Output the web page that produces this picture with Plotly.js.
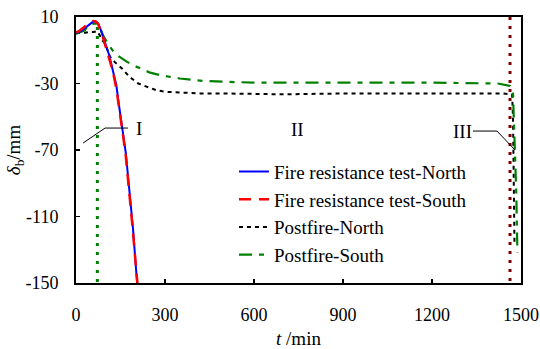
<!DOCTYPE html>
<html>
<head>
<meta charset="utf-8">
<script src="https://cdn.plot.ly/plotly-3.0.1.min.js"></script>
<style>html,body{margin:0;padding:0;background:#fff;}#chart{width:540px;height:349px;}</style>
</head>
<body>
<div id="chart"></div>
<script>
// ---- data ----
const fireNorthT = [0,10,20,30,40,50,60,68,75,82,90,98,105,112,120,128,136,144,152,160,168,176,184,192,200,206];
const fireNorthD = [0.5,1,2,3.5,5,6.5,7.5,7.2,6,3,-1,-5,-9,-13,-19,-25,-31,-42,-51,-62,-72,-86,-100,-117,-136,-150];
const fireSouthT = [0,10,20,30,40,50,58,66,74,82,90,97,104,112,120,128,136,144,152,160,168,176,184,192,200,207];
const fireSouthD = [0.8,1.5,3,4.5,6,7,7.6,7.3,6,2.5,-1.5,-6,-10,-14,-20,-26,-33,-43,-52,-63,-74,-88,-103,-119,-136,-150];
const postNorthT = [0,15,30,45,60,71,80,88,98,115,130,155,180,210,240,270,300,350,420,500,700,900,1100,1300,1439,1470,1473,1476,1478];
const postNorthD = [0,0.5,0.5,1,1,1.5,-1,-4,-6,-14,-17,-21,-26,-30,-32,-34,-35,-35.5,-36,-36,-36.5,-36,-36,-36,-36,-36.5,-50,-95,-127];
const postSouthT = [0,15,30,40,60,70,80,91,100,111,131,148,172,205,250,283,350,428,600,800,1000,1200,1422,1463,1473,1476,1480,1484,1486,1488];
const postSouthD = [0,1,2,5,6,6,4,-1,-4,-7,-12,-14,-17,-20,-23.5,-25,-27,-28.5,-29.5,-29.5,-29.5,-29.5,-30,-31.5,-36,-50,-70,-95,-115,-132];
const stageIT = [72,72];
const stageID = [4,-150];
const stageIIIT = [1463,1463];
const stageIIID = [10,-150];
const xTicks = [0,300,600,900,1200,1500];
const yTicks = [-150,-110,-70,-30,10];

const serif = "Liberation Serif, Times New Roman, serif";

const traces = [
  {x: stageIT, y: stageID, mode:'lines', showlegend:false, hoverinfo:'skip',
   line:{color:'#008000', width:3, dash:'3px,6px'}},
  {x: stageIIIT, y: stageIIID, mode:'lines', showlegend:false, hoverinfo:'skip',
   line:{color:'#800000', width:3, dash:'3px,6px'}},
  {x: postNorthT, y: postNorthD, mode:'lines', name:'Postfire-North', legendgroup:'c', legendrank:3,
   line:{color:'#000000', width:2, dash:'4px,4px'}},
  {x: postSouthT, y: postSouthD, mode:'lines', name:'Postfire-South', legendgroup:'d', legendrank:4,
   line:{color:'#008000', width:2.2, dash:'13px,7px,5px,7px'}},
  {x: fireNorthT, y: fireNorthD, mode:'lines', name:'Fire resistance test-North', legendgroup:'a', legendrank:1,
   line:{color:'#0000ff', width:2}},
  {x: fireSouthT, y: fireSouthD, mode:'lines', name:'Fire resistance test-South', legendgroup:'b', legendrank:2,
   line:{color:'#ff0000', width:2.5, dash:'12px,8px'}}
];

const layout = {
  width:540, height:349,
  margin:{l:76, r:19, t:17, b:66},
  paper_bgcolor:'#fff', plot_bgcolor:'#fff',
  font:{family:serif, size:18, color:'#000'},
  showlegend:true,
  legend:{x:0.355, y:0.49, xanchor:'left', yanchor:'top', bgcolor:'rgba(0,0,0,0)',
          font:{family:serif, size:19}, traceorder:'grouped', tracegroupgap:0},
  xaxis:{range:[0,1500], tickvals:xTicks, ticktext:xTicks.map(String), ticks:'inside', ticklen:4,
         tickwidth:1.5, tickcolor:'#000', showline:true, linecolor:'#000', linewidth:2, mirror:true,
         showgrid:false, zeroline:false, ticklabelstandoff:14,
         tickfont:{family:serif, size:18},
         title:{text:'<i>t</i> /min', font:{family:serif, size:19}, standoff:8}},
  yaxis:{range:[-150,10], tickvals:yTicks, ticktext:yTicks.map(String), ticks:'inside', ticklen:4,
         tickwidth:1.5, tickcolor:'#000', showline:true, linecolor:'#000', linewidth:2, mirror:true,
         showgrid:false, zeroline:false, ticklabelstandoff:12,
         tickfont:{family:serif, size:18},
         title:{text:'<i>δ</i><sub>b</sub>/mm', font:{family:serif, size:19}, standoff:0}},
  shapes:[
    {type:'path', xref:'x', yref:'y', path:'M 24,-65.8 L 98,-56.8 L 175,-56.8', line:{color:'#000', width:1}},
    {type:'path', xref:'x', yref:'y', path:'M 1338,-58.6 L 1419,-58.6 L 1480,-70', line:{color:'#000', width:1}}
  ],
  annotations:[
    {x:212, y:-56.8, xref:'x', yref:'y', text:'I', showarrow:false, font:{family:serif, size:19}},
    {x:748, y:-57.4, xref:'x', yref:'y', text:'II', showarrow:false, font:{family:serif, size:19}},
    {x:1304, y:-58.6, xref:'x', yref:'y', text:'III', showarrow:false, font:{family:serif, size:19}}
  ]
};

Plotly.newPlot('chart', traces, layout, {displayModeBar:false, staticPlot:true});
</script>
</body>
</html>
